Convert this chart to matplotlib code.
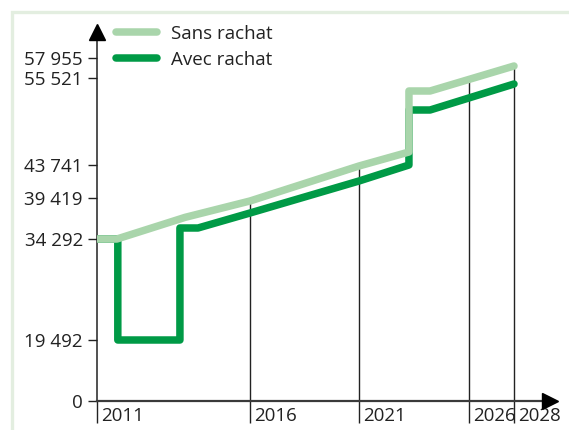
# %%
import numpy as np
import matplotlib
matplotlib.use('Agg')
import matplotlib.pyplot as plt
import matplotlib.transforms as mtransforms
from matplotlib.patches import Rectangle

plt.rcParams['font.family'] = ['Open Sans', 'DejaVu Sans']

# %% data
years_sans = [2011, 2011.65, 2013.88, 2016, 2021, 2023.27, 2023.27, 2024.23, 2028]
sans = [34292, 34292, 37000, 39044, 43610, 45501, 53761, 53761, 56981]

years_avec = [2011, 2011.68, 2011.68, 2013.71, 2013.71, 2014.30, 2016, 2021,
              2023.27, 2023.27, 2024.23, 2028]
avec = [34292, 34292, 19492, 19492, 35668, 35668, 37543, 41645,
        43741, 51188, 51188, 54709]

xticks = [2011, 2016, 2021, 2026, 2028]
yticks = [0, 19492, 34292, 39419, 43741, 55521, 57955]
ylabels = ['0', '19 492', '34 292', '39 419', '43 741', '55 521', '57 955']

# %% the axes are not linear: piecewise anchors (value -> pixel offset)
x_anchor = [2011, 2016, 2021, 2026, 2028, 2030]
x_pix = [0, 153, 262, 372, 417, 462]
y_anchor = [0, 19492, 34292, 39419, 43741, 55521, 57955, 62000]
y_pix = [0, 61, 162, 203, 236, 323, 343, 376]


def fx(v):
    return np.interp(v, x_anchor, x_pix)


def ifx(p):
    return np.interp(p, x_pix, x_anchor)


def fy(v):
    return np.interp(v, y_anchor, y_pix)


def ify(p):
    return np.interp(p, y_pix, y_anchor)


W, H = 569, 430
fig = plt.figure(figsize=(W / 100, H / 100), dpi=100)
ax = fig.add_axes([97 / W, 29 / H, 453 / W, 369 / H])
ax.set_xscale('function', functions=(fx, ifx))
ax.set_yscale('function', functions=(fy, ify))
ax.set_xlim(2011, float(ifx(453)))
ax.set_ylim(0, float(ify(369)))

light = '#a9d5ab'
dark = '#009a46'
ink = '#222222'
fs = 13.5

# vertical guides up to the "sans rachat" curve
guide_years = xticks[1:]
ax.vlines(guide_years, 0, np.interp(guide_years, years_sans, sans),
          color=ink, lw=1.0, zorder=1)

ax.plot(years_avec, avec, color=dark, lw=5.4, solid_joinstyle='round',
        solid_capstyle='round', label='Avec rachat', zorder=3)
ax.plot(years_sans, sans, color=light, lw=5.4, solid_joinstyle='round',
        solid_capstyle='round', label='Sans rachat', zorder=4)

for s in ['top', 'right']:
    ax.spines[s].set_visible(False)
ax.spines['left'].set_color(ink)
ax.spines['left'].set_linewidth(1.1)
ax.spines['bottom'].set_color('#3a3a3a')
ax.spines['bottom'].set_linewidth(1.6)

# arrow heads
ax.plot([0], [1], marker='^', ms=11, color='black', transform=ax.transAxes,
        clip_on=False, zorder=5)
ax.plot([1], [0], marker='>', ms=11, color='black', transform=ax.transAxes,
        clip_on=False, zorder=5)

ax.set_yticks(yticks)
ax.set_yticklabels(ylabels)
ax.tick_params(axis='y', direction='out', length=6.5, width=1.0, pad=3.6,
               labelsize=fs, colors=ink)
ax.set_xticks(xticks)
ax.set_xticklabels([str(y) for y in xticks])
ax.tick_params(axis='x', direction='out', length=16, width=1.0, pad=-11.5,
               labelsize=fs, colors=ink)
ax.minorticks_off()
shift = mtransforms.ScaledTranslation(4 / 100, 0, fig.dpi_scale_trans)
for lab in ax.get_xticklabels():
    lab.set_horizontalalignment('left')
    lab.set_transform(lab.get_transform() + shift)

handles, labels = ax.get_legend_handles_labels()
ax.legend(handles[::-1], labels[::-1], loc='upper left',
          bbox_to_anchor=(116 / W, 1 - 25 / H), bbox_transform=fig.transFigure,
          frameon=False, fontsize=fs, handlelength=2.2, handletextpad=0.75,
          labelspacing=0.42, borderpad=0, borderaxespad=0, labelcolor=ink)

# light green frame around the figure
fig.patches.append(Rectangle((12 / W, -0.5), 1.5, 0.5 + 1 - 12 / H,
                             transform=fig.transFigure, fill=False,
                             edgecolor='#e3eee0', lw=2.4, zorder=0))

fig.savefig('out.png', dpi=100)
